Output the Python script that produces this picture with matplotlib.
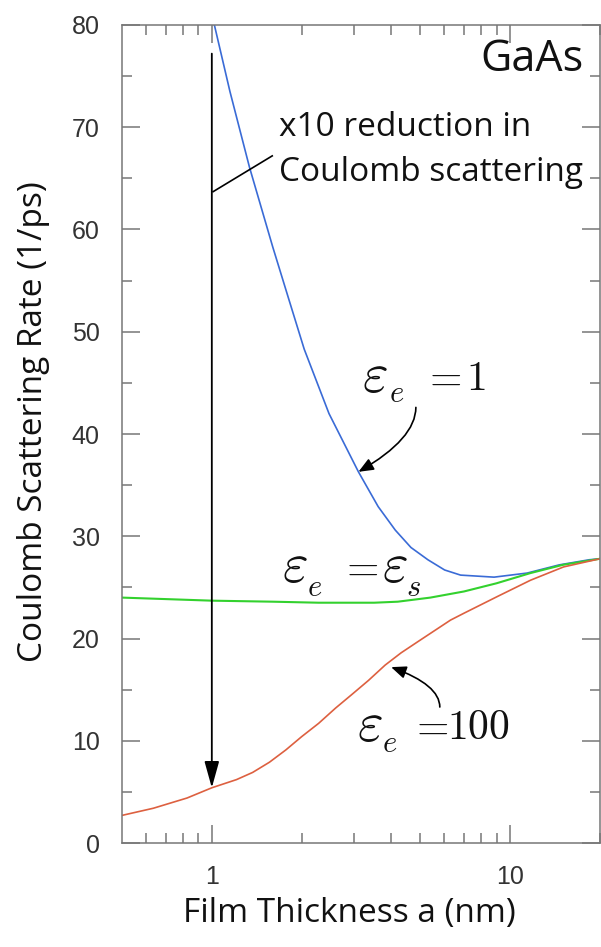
#!/usr/bin/env python3

"""Coulomb scattering rate vs film thickness for GaAs, three dielectric environments."""

import matplotlib
matplotlib.use('Agg')
import matplotlib.pyplot as plt
from matplotlib.ticker import FixedLocator, NullFormatter
from matplotlib.transforms import offset_copy

plt.rcParams['font.family'] = ['Open Sans', 'DejaVu Sans']
plt.rcParams['mathtext.fontset'] = 'cm'

# eps_e = 1 (blue)
thick_vac = [1.0, 1.02, 1.15, 1.337, 1.6, 1.815, 2.04, 2.47, 3.1, 3.61, 4.12, 4.65, 5.3, 6.03,
             6.82, 8.83, 11.4, 14.6, 18.4, 20.0]
rate_vac = [81.0, 80.0, 73.5, 66.1, 58.3, 53.1, 48.3, 42.0, 36.3, 32.9, 30.6, 28.9, 27.7, 26.7,
            26.2, 26.0, 26.4, 27.2, 27.7, 27.8]
# eps_e = eps_s (green)
thick_same = [0.5, 1.0, 1.6, 2.28, 3.5, 4.2, 5.4, 7.0, 9.0, 11.7, 15.0, 20.0]
rate_same = [24.0, 23.7, 23.6, 23.5, 23.5, 23.6, 24.0, 24.6, 25.4, 26.4, 27.2, 27.8]
# eps_e = 100 (red)
thick_high = [0.5, 0.637, 0.826, 1.0, 1.21, 1.37, 1.56, 1.77, 2.0, 2.28, 2.6, 2.94, 3.35, 3.81,
              4.31, 4.91, 6.31, 7.03, 9.05, 11.7, 15.1, 20.0]
rate_high = [2.7, 3.4, 4.4, 5.4, 6.2, 6.9, 7.9, 9.1, 10.4, 11.7, 13.2, 14.5, 15.9, 17.4,
             18.6, 19.7, 21.8, 22.5, 24.1, 25.7, 27.0, 27.8]

x_ticks = [1, 10]
y_ticks = [0, 10, 20, 30, 40, 50, 60, 70, 80]

fig = plt.figure(figsize=(6.01, 9.47), dpi=100)
ax = fig.add_axes([122/601, 1 - 843/947, 478/601, 818/947])

ax.plot(thick_vac, rate_vac, color='#3a6bd6', lw=1.2)
ax.plot(thick_same, rate_same, color='#33d12e', lw=1.5)
ax.plot(thick_high, rate_high, color='#dd6040', lw=1.2)

ax.set_xscale('log')
ax.set_xlim(0.5, 20)
ax.set_ylim(0, 80)
ax.xaxis.set_major_locator(FixedLocator(x_ticks))
ax.xaxis.set_minor_locator(FixedLocator([0.6, 0.7, 0.8, 0.9, 2, 3, 4, 5, 6, 7, 8, 9, 20]))
ax.xaxis.set_minor_formatter(NullFormatter())
ax.set_xticklabels([str(t) for t in x_ticks])
ax.yaxis.set_major_locator(FixedLocator(y_ticks))
ax.yaxis.set_minor_locator(FixedLocator([5, 15, 25, 35, 45, 55, 65, 75]))

for s in ax.spines.values():
    s.set_color('#777777')
    s.set_linewidth(1.1)
ax.tick_params(which='both', direction='in', top=True, right=True, colors='#777777',
               labelcolor='#333333', labelsize=18, width=1.1)
ax.tick_params(which='major', length=13)
ax.tick_params(which='minor', length=7)
ax.tick_params(axis='x', pad=16)
ax.tick_params(axis='y', pad=16)
for lab in ax.get_xticklabels() + ax.get_yticklabels():
    lab.set_family(['Liberation Sans', 'DejaVu Sans'])

ax.set_xlabel('Film Thickness a (nm)', fontsize=24, color='#111111')
ax.set_ylabel('Coulomb Scattering Rate (1/ps)', fontsize=24, color='#111111')
ax.xaxis.set_label_coords(0.475, -0.066)
ax.yaxis.set_label_coords(-0.15, 0.515)

# big arrow showing the reduction
ax.annotate('', xy=(1.0, 5.4), xytext=(1.0, 77.2),
            arrowprops=dict(arrowstyle='-|>,head_length=0.9,head_width=0.25',
                            color='black', lw=1.3, shrinkA=0, shrinkB=0, mutation_scale=18))
ax.plot([1.01, 1.594], [63.7, 67.2], color='black', lw=1.2)
ax.text(1.683, 70.0, 'x10 reduction in', fontsize=24, va='center', ha='left', color='#111111')
ax.text(1.683, 65.6, 'Coulomb scattering', fontsize=24, va='center', ha='left', color='#111111')
ax.text(7.96, 76.6, 'GaAs', fontsize=31, va='center', ha='left', color='#111111')


def put_label(x, y, pieces):
    # pieces: (mathtext, dx px, dy px, size)
    for s, dx, dy, size in pieces:
        tr = offset_copy(ax.transData, fig=fig, x=dx, y=dy, units='dots')
        ax.text(x, y, s, transform=tr, fontsize=size, ha='left', va='baseline', color='#111111')


put_label(3.176, 44.1, [(r'$\varepsilon$', 0, 0, 40), (r'$e$', 27, -10, 22),
                        (r'$=$', 60, 2, 30), (r'$1$', 104, 2, 30)])
put_label(1.72, 25.5, [(r'$\varepsilon$', 0, 0, 40), (r'$e$', 25, -14, 22),
                       (r'$=$', 57, 2, 30), (r'$\varepsilon$', 100, 0, 40), (r'$s$', 124, -14, 22)])
put_label(3.058, 10.0, [(r'$\varepsilon$', 0, 0, 40), (r'$e$', 25, -11, 22),
                        (r'$=$', 52, 2, 30), (r'$100$', 90, 2, 30)])

ax.annotate('', xy=(3.10, 36.3), xytext=(4.83, 42.6),
            arrowprops=dict(arrowstyle='-|>,head_length=0.6,head_width=0.25', color='black',
                            lw=1.2, connectionstyle='angle3,angleA=90,angleB=30',
                            shrinkA=0, shrinkB=0, mutation_scale=15))
ax.annotate('', xy=(3.99, 17.2), xytext=(5.81, 13.3),
            arrowprops=dict(arrowstyle='-|>,head_length=0.6,head_width=0.25', color='black',
                            lw=1.2, connectionstyle='angle3,angleA=90,angleB=-20',
                            shrinkA=0, shrinkB=0, mutation_scale=15))

fig.savefig('out.png', dpi=100)
